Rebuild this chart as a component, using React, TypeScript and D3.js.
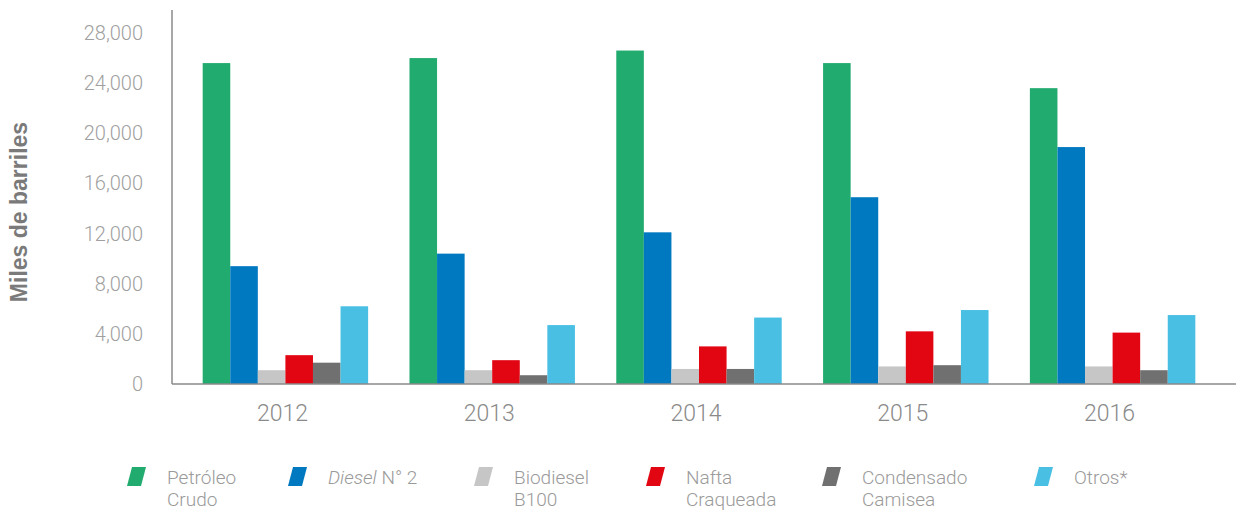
import React from "react";
import * as d3 from "d3";

const years = ["2012", "2013", "2014", "2015", "2016"];
const seriesNames = ["Petróleo Crudo", "Diesel N° 2", "Biodiesel B100", "Nafta Craqueada", "Condensado Camisea", "Otros*"];
const petroleo = [25600, 26000, 26600, 25600, 23600];
const diesel = [9400, 10400, 12100, 14900, 18900];
const biodiesel = [1100, 1100, 1200, 1400, 1400];
const nafta = [2300, 1900, 3000, 4200, 4100];
const condensado = [1700, 700, 1200, 1500, 1100];
const otros = [6200, 4700, 5300, 5900, 5500];
const yTicks = [0, 4000, 8000, 12000, 16000, 20000, 24000, 28000];
const colors = ["#22ab6f", "#0079c1", "#c6c6c6", "#e20613", "#707070", "#48bfe3"];

const allSeries = [petroleo, diesel, biodiesel, nafta, condensado, otros];

const legendItems = [
  { lines: [["Petróleo", false]], second: "Crudo", x: 131 },
  { lines: [["Diesel", true], [" N° 2", false]], second: "", x: 292 },
  { lines: [["Biodiesel", false]], second: "B100", x: 478 },
  { lines: [["Nafta", false]], second: "Craqueada", x: 650 },
  { lines: [["Condensado", false]], second: "Camisea", x: 826 },
  { lines: [["Otros*", false]], second: "", x: 1038 },
];

export default function App() {
  const W = 1236, H = 511;
  const y = d3.scaleLinear().domain([0, 28000]).range([384, 33]);
  const x0 = d3.scaleBand().domain(years).range([182, 1216]).paddingInner(0.2).paddingOuter(0.1);
  const x1 = d3.scaleBand().domain(seriesNames).range([0, x0.bandwidth()]).padding(0);
  const font = "Roboto, 'Open Sans', sans-serif";
  return (
    <svg width={W} height={H} style={{ position: "absolute", left: 0, top: 0, background: "#fff" }}>
      {years.map((yr, i) => (
        <g key={yr} transform={`translate(${x0(yr)},0)`}>
          {allSeries.map((s, j) => (
            <rect key={j} x={x1(seriesNames[j])} width={x1.bandwidth()} y={y(s[i])} height={y(0) - y(s[i])} fill={colors[j]} />
          ))}
        </g>
      ))}
      <line x1={172} x2={172} y1={10} y2={384} stroke="#8a8a8a" strokeWidth={1.5} />
      <line x1={172} x2={1236} y1={384} y2={384} stroke="#8a8a8a" strokeWidth={1.5} />
      {yTicks.map((t) => (
        <text key={t} x={143} y={y(t)} dy="0.35em" textAnchor="end" fontFamily={font} fontWeight={300} fontSize={20} fill="#a0a0a0">
          {d3.format(",")(t)}
        </text>
      ))}
      {years.map((yr) => (
        <text key={yr} x={(x0(yr) as number) + x0.bandwidth() / 2 - 3} y={421} textAnchor="middle" fontFamily={font} fontWeight={300} fontSize={23} fill="#8a8a8a">
          {yr}
        </text>
      ))}
      <text transform="translate(27,212) rotate(-90)" textAnchor="middle" fontFamily="'Liberation Sans', Arial, sans-serif" fontWeight={700} fontSize={23} fill="#7a7a7a">
        Miles de barriles
      </text>
      {legendItems.map((it, k) => (
        <g key={k}>
          <polygon points={`${it.x - 4},486 ${it.x + 1},467 ${it.x + 15},467 ${it.x + 10},486`} fill={colors[k]} />
          <text x={it.x + 36} y={484} fontFamily={font} fontWeight={300} fontSize={19} fill="#9a9a9a">
            {it.lines.map((l, m) => (
              <tspan key={m} fontStyle={l[1] ? "italic" : "normal"}>{l[0] as string}</tspan>
            ))}
          </text>
          {it.second && (
            <text x={it.x + 36} y={506} fontFamily={font} fontWeight={300} fontSize={19} fill="#9a9a9a">
              {it.second}
            </text>
          )}
        </g>
      ))}
    </svg>
  );
}
